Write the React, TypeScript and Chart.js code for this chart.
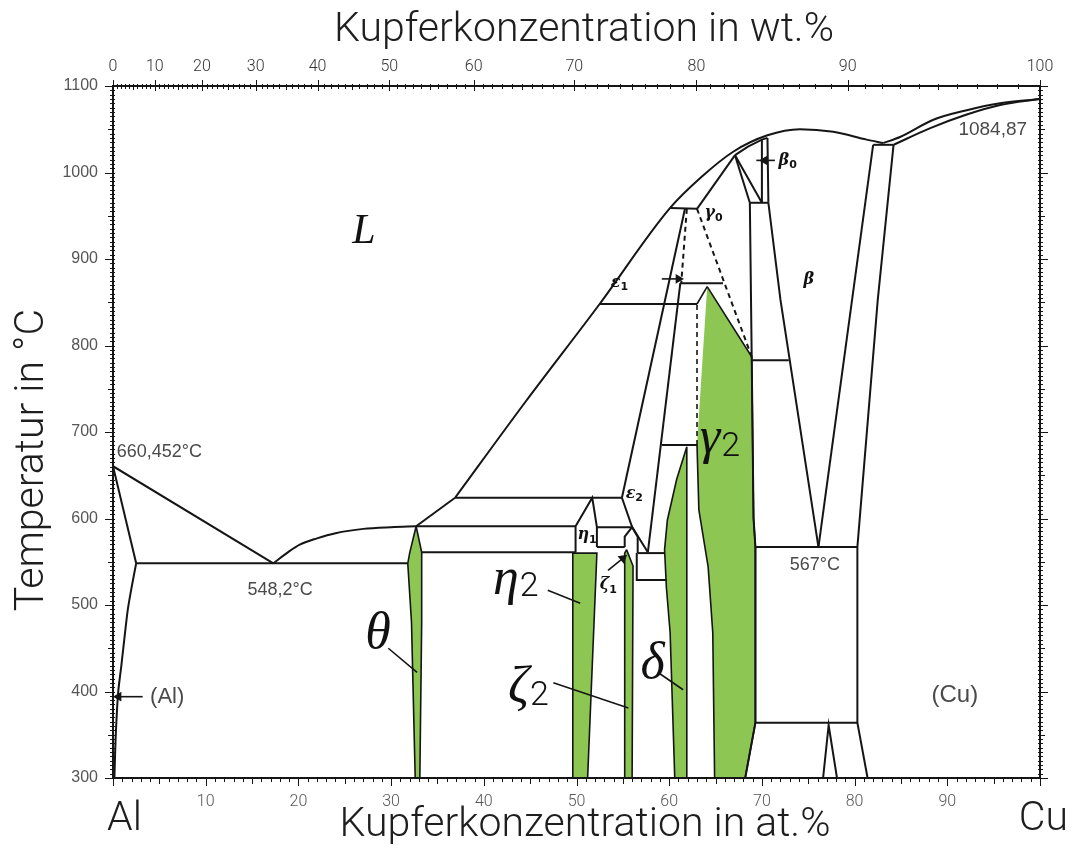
import React, { useEffect, useRef } from 'react';
import { Chart, registerables } from 'chart.js';
Chart.register(...registerables);

type P = [number, number];

// ---- axis ticks ----
const atTickLabels = [10, 20, 30, 40, 50, 60, 70, 80, 90];
const wtTickLabels = [0, 10, 20, 30, 40, 50, 60, 70, 80, 90, 100];
const tempTickLabels = [300, 400, 500, 600, 700, 800, 900, 1000, 1100];

// ---- phase boundaries (x = at.% Cu, y = °C) ----
const liquidusAl: P[] = [[0, 660.45], [17.3, 548.2]];
const solidusAl: P[] = [[0, 660.45], [2.5, 548.2]];
const solvusAl: P[] = [[2.5, 548.2], [2.0, 520], [1.6, 495], [1.3, 468], [0.9, 430], [0.55, 398], [0.3, 350], [0.15, 300]];
const eutectic548: P[] = [[2.5, 548.2], [31.8, 548.2]];
const liquidusTheta: P[] = [[17.3, 548.2], [19, 562], [20.2, 570], [22, 577], [24, 583], [27, 588], [30, 590], [32.7, 591]];
const liquidusThetaEta: P[] = [[32.7, 591], [36.9, 624]];
const liquidusMain: P[] = [[36.9, 624], [44.5, 735], [52.5, 848], [60.1, 959], [63.5, 995], [66.9, 1024], [70.6, 1043], [74.1, 1050], [77.7, 1047], [81.3, 1038], [83.1, 1034]];
const liquidusCu: P[] = [[83.1, 1034], [84.9, 1041], [88.5, 1061], [92.1, 1072], [95.7, 1080], [100, 1084.87]];
const solidusCu: P[] = [[84.2, 1032], [88.1, 1051], [92.1, 1067], [95.7, 1078], [100, 1084.87]];
const betaCuTie: P[] = [[82.0, 1032], [84.2, 1032]];
const betaRight: P[] = [[82.0, 1032], [76.1, 567]];
const cuSolvus: P[] = [[84.2, 1032], [82.5, 853], [80.3, 567], [80.3, 364], [81.4, 300]];
const betaLeft: P[] = [[70.7, 965], [72.0, 853], [76.1, 567]];
const betaSolidus: P[] = [[67.1, 1020], [68.5, 1030], [70.0, 1038], [70.6, 1040]];
const gamma0Left: P[] = [[63.0, 958], [67.1, 1020]];
const gamma0Tri1: P[] = [[67.1, 1020], [68.7, 965]];
const gamma0Tri2: P[] = [[67.1, 1020], [70.0, 965]];
const beta0Left: P[] = [[70.0, 1038], [70.0, 965]];
const beta0Right: P[] = [[70.6, 1040], [70.7, 965]];
const tie965: P[] = [[68.7, 965], [70.7, 965]];
const gammaRight: P[] = [[68.7, 965], [68.9, 787], [69.1, 600], [69.3, 567], [69.3, 364], [68.2, 300]];
const tie783: P[] = [[68.9, 783], [72.9, 783]];
const eutectoid567: P[] = [[69.3, 567], [80.3, 567]];
const tie364: P[] = [[69.3, 364], [80.3, 364]];
const cuOrderV: P[] = [[76.6, 300], [77.2, 361], [78.1, 300]];
const tie958: P[] = [[60.1, 959], [63.0, 958]];
const eps1Left: P[] = [[61.7, 958], [54.9, 624]];
const eps1Dashed: P[] = [[61.9, 958], [61.3, 872]];
const tie872: P[] = [[61.2, 872], [65.8, 872]];
const eps2Right: P[] = [[61.2, 872], [57.7, 561]];
const gamma0Dashed: P[] = [[63.0, 958], [68.9, 787]];
const tie848: P[] = [[52.5, 848], [63.0, 848]];
const tie685: P[] = [[59.2, 685], [63.0, 685]];
const tie624: P[] = [[36.9, 624], [54.9, 624]];
const tie591: P[] = [[32.7, 591], [49.9, 591]];
const tie590: P[] = [[52.2, 590], [56.0, 590]];
const tie561: P[] = [[33.3, 561], [49.9, 561]];
const eta1: P[] = [[49.9, 561], [49.9, 591], [51.7, 624], [52.2, 590], [52.2, 567]];
const tie567b: P[] = [[52.2, 567], [55.2, 567]];
const zeta1: P[] = [[55.2, 567], [55.2, 579], [56.0, 590], [56.6, 579], [56.6, 560]];
const eps2Bottom: P[] = [[54.9, 624], [56.0, 590], [57.7, 561]];
const tie560: P[] = [[56.6, 560], [59.5, 560]];
const tie529: P[] = [[56.5, 560], [56.5, 529], [59.7, 529]];

// ---- single-phase fields (green) ----
const thetaPhase: P[] = [[32.7, 591], [32.0, 560], [31.8, 548], [32.2, 480], [32.6, 300], [33.1, 300], [33.3, 480], [33.3, 561], [32.7, 591]];
const eta2Phase: P[] = [[49.6, 560], [52.2, 560], [51.2, 300], [49.6, 300], [49.6, 560]];
const zeta2Phase: P[] = [[55.4, 564], [56.1, 545], [56.0, 300], [55.2, 300], [55.2, 560], [55.4, 564]];
const deltaPhase: P[] = [[61.9, 683], [60.8, 645], [59.8, 598], [59.5, 564], [59.7, 520], [60.1, 468], [60.6, 300], [61.9, 300], [61.9, 683]];
const gamma2Phase: P[] = [[64.1, 868], [68.9, 787], [69.1, 600], [69.3, 567], [69.3, 364], [68.2, 300], [64.9, 300], [64.7, 468], [64.2, 544], [63.2, 610], [63.0, 685], [63.0, 848], [64.1, 868]];

// ---- leader lines & arrows ----
const thetaLeader: P[] = [[29.7, 450], [32.8, 422]];
const eta2Leader: P[] = [[46.9, 517], [50.4, 502]];
const zeta2Leader: P[] = [[47.5, 410], [55.6, 381]];
const deltaLeader: P[] = [[58.8, 422], [61.5, 402]];
const alArrow: P[] = [[3.2, 394], [0.6, 394]];
const eps1Arrow: P[] = [[59.2, 877], [61.0, 877]];
const zeta1Arrow: P[] = [[53.4, 540], [55.0, 554]];
const beta0Arrow: P[] = [[71.4, 1014], [70.3, 1014], [69.4, 1014]];

const curvedLines: P[][] = [liquidusTheta, liquidusMain, liquidusCu, solidusCu];
const solidLines: P[][] = [
  liquidusAl, solidusAl, eutectic548, liquidusThetaEta,
  betaCuTie, betaRight, cuSolvus, betaLeft, betaSolidus, gamma0Left, gamma0Tri1, gamma0Tri2,
  beta0Left, beta0Right, tie965, gammaRight, tie783, eutectoid567, tie364, cuOrderV, tie958,
  eps1Left, tie872, eps2Right, tie848, tie685, tie624, tie591, tie590, tie561, eta1, tie567b,
  zeta1, eps2Bottom, tie560, tie529,
];
const dashedLines: P[][] = [eps1Dashed, gamma0Dashed];
const phaseAreas: P[][] = [thetaPhase, eta2Phase, zeta2Phase, deltaPhase, gamma2Phase];
const leaderLines: P[][] = [thetaLeader, eta2Leader, zeta2Leader, deltaLeader];
const arrowLines: { pts: P[]; head: number; rot: number }[] = [
  { pts: alArrow, head: 1, rot: -90 },
  { pts: eps1Arrow, head: 1, rot: 90 },
  { pts: zeta1Arrow, head: 1, rot: 50 },
  { pts: beta0Arrow, head: 1, rot: -90 },
];

// ---- text annotations (position in at.% / °C) ----
const bigGreek = [
  { main: 'L', sub: '', x: 25.8, y: 931, size: 42 },
  { main: 'θ', sub: '', x: 27.2, y: 466, size: 52 },
  { main: 'η', sub: '2', x: 41.0, y: 529, size: 52 },
  { main: 'ζ', sub: '2', x: 42.6, y: 404, size: 52 },
  { main: 'δ', sub: '', x: 56.9, y: 431, size: 52 },
  { main: 'γ', sub: '2', x: 63.3, y: 691, size: 52 },
];
const smallGreek = [
  { main: 'β', sub: '0', x: 71.8, y: 1014 },
  { main: 'γ', sub: '0', x: 63.8, y: 953 },
  { main: 'ε', sub: '1', x: 53.7, y: 873 },
  { main: 'β', sub: '', x: 74.5, y: 876 },
  { main: 'η', sub: '1', x: 50.1, y: 581 },
  { main: 'ε', sub: '2', x: 55.3, y: 629 },
  { main: 'ζ', sub: '1', x: 52.5, y: 523 },
];
const valueNotes = [
  { text: '660,452°C', x: 0.4, y: 677, size: 18 },
  { text: '548,2°C', x: 14.5, y: 517, size: 18 },
  { text: '567°C', x: 73.0, y: 546, size: 18 },
  { text: '1084,87', x: 91.2, y: 1049, size: 19 },
  { text: '(Al)', x: 4.0, y: 394, size: 22 },
  { text: '(Cu)', x: 88.3, y: 396, size: 24 },
];

const GREEN = '#8dc653';
const INK = '#151515';
const GRAY = '#4a4a4a';

function wtToAt(w: number) {
  const c = w / 63.546;
  const a = (100 - w) / 26.982;
  return (100 * c) / (c + a);
}

const decorPlugin = {
  id: 'decor',
  afterDraw(chart: any) {
    const { ctx, chartArea: ca, scales } = chart;
    const X = scales.x;
    const Y = scales.y;
    ctx.save();
    ctx.strokeStyle = INK;
    ctx.lineWidth = 1;
    const seg = (x1: number, y1: number, x2: number, y2: number) => {
      ctx.beginPath();
      ctx.moveTo(x1, y1);
      ctx.lineTo(x2, y2);
      ctx.stroke();
    };
    for (let t = 300; t <= 1100; t += 5) {
      const py = Math.round(Y.getPixelForValue(t)) + 0.5;
      const maj = t % 100 === 0;
      const mid = t % 50 === 0;
      seg(ca.left - (maj ? 8 : mid ? 5 : 3), py, ca.left + 2, py);
      seg(ca.right - 2, py, ca.right + (maj ? 8 : mid ? 5 : 3), py);
    }
    for (let a = 0; a <= 100; a++) {
      const px = Math.round(X.getPixelForValue(a)) + 0.5;
      const maj = a % 10 === 0;
      const mid = a % 5 === 0;
      seg(px, ca.bottom, px, ca.bottom + (maj ? 8 : mid ? 6 : 4));
    }
    for (let w = 0; w <= 100; w++) {
      const px = Math.round(X.getPixelForValue(wtToAt(w))) + 0.5;
      const maj = w % 10 === 0;
      const mid = w % 5 === 0;
      seg(px, ca.top - (maj ? 6 : 2), px, ca.top + (maj ? 5 : mid ? 4 : 3));
    }
    ctx.lineWidth = 2;
    ctx.strokeRect(ca.left, ca.top, ca.right - ca.left, ca.bottom - ca.top);

    // titles
    ctx.fillStyle = '#1e1e1e';
    ctx.font = '300 41px Roboto';
    ctx.textAlign = 'center';
    ctx.textBaseline = 'middle';
    ctx.fillText('Kupferkonzentration in wt.%', 584, 31);
    ctx.fillText('Kupferkonzentration in at.%', 585, 826);
    ctx.save();
    ctx.translate(33, 460);
    ctx.rotate(-Math.PI / 2);
    ctx.fillText('Temperatur in °C', 0, 0);
    ctx.restore();
    ctx.font = '300 41px Roboto';
    ctx.textAlign = 'left';
    ctx.fillText('Al', ca.left - 6, 820);
    ctx.textAlign = 'right';
    ctx.fillText('Cu', 1068, 820);

    // value notes
    ctx.textAlign = 'left';
    ctx.fillStyle = GRAY;
    for (const n of valueNotes) {
      ctx.font = `${n.size}px "Liberation Sans"`;
      ctx.fillText(n.text, X.getPixelForValue(n.x), Y.getPixelForValue(n.y));
    }
    // big greek
    ctx.fillStyle = '#111';
    for (const g of bigGreek) {
      const px = X.getPixelForValue(g.x);
      const py = Y.getPixelForValue(g.y);
      ctx.font = `italic ${g.size}px "Liberation Serif"`;
      ctx.textAlign = 'left';
      ctx.fillText(g.main, px, py);
      if (g.sub) {
        const w = ctx.measureText(g.main).width;
        ctx.font = '300 34px Roboto';
        ctx.fillText(g.sub, px + w + 1, py + 8);
      }
    }
    // small greek
    for (const g of smallGreek) {
      const px = X.getPixelForValue(g.x);
      const py = Y.getPixelForValue(g.y);
      ctx.font = 'italic bold 16px "DejaVu Serif"';
      ctx.textAlign = 'left';
      ctx.fillText(g.main, px, py);
      if (g.sub) {
        const w = ctx.measureText(g.main).width;
        ctx.font = 'bold 11px "DejaVu Sans"';
        ctx.fillText(g.sub, px + w, py + 5);
      }
    }
    ctx.restore();
  },
};

export default function App() {
  const ref = useRef<HTMLCanvasElement>(null);
  useEffect(() => {
    const canvas = ref.current;
    if (!canvas) return;
    const pts = (a: P[]) => a.map(([x, y]) => ({ x, y }));
    const datasets: any[] = [];
    const base = { pointRadius: 0, tension: 0, fill: false, borderColor: INK };
    for (const l of curvedLines) datasets.push({ ...base, data: pts(l), borderWidth: 2, order: 0, cubicInterpolationMode: 'monotone' });
    datasets.push({ ...base, data: pts(solvusAl), borderWidth: 2, order: 0, tension: 0.3 });
    for (const l of solidLines) datasets.push({ ...base, data: pts(l), borderWidth: 2, order: 0 });
    for (const l of dashedLines) datasets.push({ ...base, data: pts(l), borderWidth: 2, borderDash: [5, 4], order: 0 });
    for (const l of leaderLines) datasets.push({ ...base, data: pts(l), borderWidth: 1.6, order: 0 });
    for (const a of arrowLines) {
      datasets.push({
        ...base,
        data: pts(a.pts),
        borderWidth: 1.6,
        order: 0,
        pointStyle: 'triangle',
        pointRotation: a.rot,
        pointBackgroundColor: INK,
        pointBorderColor: INK,
        pointRadius: (c: any) => (c.dataIndex === a.head ? 4 : 0),
      });
    }
    phaseAreas.forEach((p) => {
      const isGamma = p === gamma2Phase;
      datasets.push({
        ...base,
        data: pts(p),
        fill: 'shape',
        backgroundColor: GREEN,
        borderWidth: 1.6,
        order: 2,
        segment: isGamma ? { borderDash: (c: any) => (c.p0DataIndex === 10 ? [5, 4] : undefined) } : undefined,
      });
    });

    const noGrid = { display: false, drawTicks: false };
    const chart = new Chart(canvas, {
      type: 'line',
      data: { datasets },
      options: {
        responsive: false,
        animation: false,
        devicePixelRatio: 1,
        events: [],
        layout: { padding: 0 },
        plugins: { legend: { display: false }, tooltip: { enabled: false } },
        scales: {
          x: {
            type: 'linear',
            position: 'bottom',
            min: 0,
            max: 100,
            afterBuildTicks: (s: any) => {
              s.ticks = atTickLabels.map((v) => ({ value: v }));
            },
            ticks: {
              autoSkip: false,
              maxRotation: 0,
              padding: 14,
              color: '#555',
              font: { family: 'Roboto', size: 16, weight: '300' },
              callback: (v: any) => String(v),
            },
            grid: noGrid,
            border: { display: false },
            afterFit: (s: any) => {
              s.height = 73;
            },
          },
          x2: {
            type: 'linear',
            position: 'top',
            min: 0,
            max: 100,
            afterBuildTicks: (s: any) => {
              s.ticks = wtTickLabels.map((w) => ({ value: wtToAt(w) }));
            },
            ticks: {
              autoSkip: false,
              maxRotation: 0,
              padding: 9,
              color: '#333',
              font: { family: 'Roboto', size: 16, weight: '300' },
              callback: (_v: any, i: number) => String(wtTickLabels[i]),
            },
            grid: noGrid,
            border: { display: false },
            afterFit: (s: any) => {
              s.height = 86;
            },
          },
          y: {
            type: 'linear',
            position: 'left',
            min: 300,
            max: 1100,
            afterBuildTicks: (s: any) => {
              s.ticks = tempTickLabels.map((v) => ({ value: v }));
            },
            ticks: {
              padding: 15,
              color: '#555',
              font: { family: 'Liberation Sans', size: 16 },
              callback: (v: any) => String(v),
            },
            grid: noGrid,
            border: { display: false },
            afterFit: (s: any) => {
              s.width = 113;
            },
          },
          y2: {
            type: 'linear',
            position: 'right',
            min: 300,
            max: 1100,
            ticks: { display: false },
            grid: noGrid,
            border: { display: false },
            afterFit: (s: any) => {
              s.width = 32;
            },
          },
        },
      } as any,
      plugins: [decorPlugin],
    });
    return () => chart.destroy();
  }, []);
  return (
    <div style={{ position: 'fixed', left: 0, top: 0, width: 1072, height: 851, background: '#fff' }}>
      <canvas ref={ref} width={1072} height={851} style={{ display: 'block' }} />
    </div>
  );
}
